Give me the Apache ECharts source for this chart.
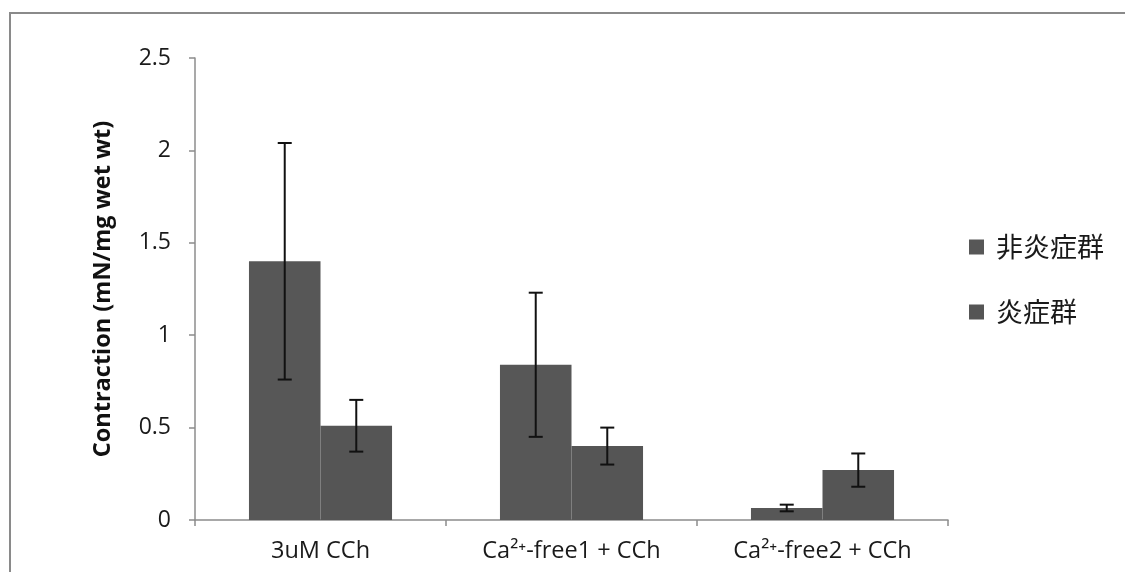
<!DOCTYPE html>
<html>
<head>
<meta charset="utf-8">
<script src="https://cdn.jsdelivr.net/npm/echarts@6/dist/echarts.min.js"></script>
<style>
  html, body { margin: 0; padding: 0; background: #ffffff; }
  #chart { width: 1125px; height: 572px; }
</style>
</head>
<body>
<div id="chart"></div>
<script>
// Contraction per group, mean ± error
const categories = ['3uM CCh', 'Ca²⁺-free1 + CCh', 'Ca²⁺-free2 + CCh'];
const seriesNames = ['非炎症群', '炎症群'];
const nonInflamed = [1.40, 0.84, 0.065];
const nonInflamedErr = [0.64, 0.39, 0.018];
const inflamed = [0.51, 0.40, 0.27];
const inflamedErr = [0.14, 0.10, 0.09];
const yTicks = [0, 0.5, 1, 1.5, 2, 2.5];

const CAT_GAP = 0.43;
const barColors = ['#575757', '#555555'];

function errorData(values, errs) {
  return values.map((v, i) => [i, v - errs[i], v + errs[i]]);
}

// Draws whiskers over one bar of each pair; side = -1 (left bar) or 1 (right bar)
function makeErrorRenderer(side) {
  return function (params, api) {
    const idx = api.value(0);
    const lowPt = api.coord([idx, api.value(1)]);
    const highPt = api.coord([idx, api.value(2)]);
    const band = api.size([1, 0])[0];
    const barW = band * (1 - CAT_GAP) / 2;
    const x = lowPt[0] + side * barW / 2;
    const half = 7;
    const style = { stroke: '#111111', lineWidth: 2 };
    return {
      type: 'group',
      children: [
        { type: 'line', shape: { x1: x, y1: highPt[1], x2: x, y2: lowPt[1] }, style: style },
        { type: 'line', shape: { x1: x - half, y1: highPt[1], x2: x + half, y2: highPt[1] }, style: style },
        { type: 'line', shape: { x1: x - half, y1: lowPt[1], x2: x + half, y2: lowPt[1] }, style: style }
      ]
    };
  };
}

const chart = echarts.init(document.getElementById('chart'));
chart.setOption({
  backgroundColor: '#ffffff',
  animation: false,
  graphic: [{
    type: 'rect',
    shape: { x: 10, y: 13, width: 1140, height: 600 },
    style: { fill: 'none', stroke: '#8a8a8a', lineWidth: 2 },
    silent: true
  }],
  grid: { left: 195, right: 177, top: 58, bottom: 52, containLabel: false },
  legend: {
    orient: 'vertical',
    left: 969,
    top: 231,
    padding: 0,
    itemWidth: 15,
    itemHeight: 15,
    itemGap: 33,
    icon: 'rect',
    data: seriesNames,
    textStyle: {
      fontFamily: '"Noto Sans CJK JP", sans-serif',
      fontSize: 27,
      lineHeight: 32,
      color: '#1a1a1a',
      padding: [0, 0, 0, 7]
    }
  },
  xAxis: {
    type: 'category',
    data: categories,
    axisLine: { lineStyle: { color: '#8c8c8c', width: 1.5 } },
    axisTick: { show: true, alignWithLabel: false, length: 6, lineStyle: { color: '#8c8c8c', width: 1.5 } },
    axisLabel: {
      margin: 19,
      fontFamily: '"Open Sans", sans-serif',
      fontSize: 23.5,
      color: '#1a1a1a'
    }
  },
  yAxis: {
    type: 'value',
    min: yTicks[0],
    max: yTicks[yTicks.length - 1],
    interval: 0.5,
    name: 'Contraction (mN/mg wet wt)',
    nameLocation: 'middle',
    nameGap: 80,
    nameTextStyle: {
      fontFamily: '"Open Sans", sans-serif',
      fontWeight: 'bold',
      fontSize: 23.5,
      color: '#111111'
    },
    splitLine: { show: false },
    axisLine: { show: true, lineStyle: { color: '#8c8c8c', width: 1.5 } },
    axisTick: { show: true, length: 6, lineStyle: { color: '#8c8c8c', width: 1.5 } },
    axisLabel: {
      margin: 24,
      fontFamily: '"Open Sans", sans-serif',
      fontSize: 23,
      color: '#1a1a1a'
    }
  },
  series: [
    {
      name: seriesNames[0],
      type: 'bar',
      data: nonInflamed,
      barGap: '0%',
      barCategoryGap: (CAT_GAP * 100) + '%',
      itemStyle: { color: barColors[0] }
    },
    {
      name: seriesNames[1],
      type: 'bar',
      data: inflamed,
      barGap: '0%',
      barCategoryGap: (CAT_GAP * 100) + '%',
      itemStyle: { color: barColors[1] }
    },
    {
      type: 'custom',
      renderItem: makeErrorRenderer(-1),
      data: errorData(nonInflamed, nonInflamedErr),
      encode: { x: 0, y: [1, 2] },
      z: 5,
      silent: true
    },
    {
      type: 'custom',
      renderItem: makeErrorRenderer(1),
      data: errorData(inflamed, inflamedErr),
      encode: { x: 0, y: [1, 2] },
      z: 5,
      silent: true
    }
  ]
});
</script>
</body>
</html>
